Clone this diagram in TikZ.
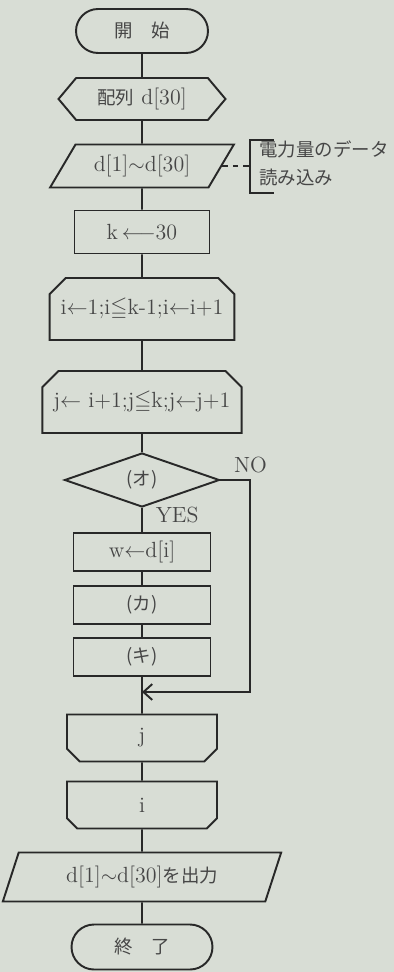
\documentclass[tikz,border=0pt]{standalone}
\usepackage{amssymb}
\usepackage{fontspec}
\newfontfamily\jp{Noto Sans CJK JP}[Scale=0.84]
\usetikzlibrary{arrows.meta,shapes.geometric,shapes.misc,shapes.symbols,positioning,calc}

\definecolor{paper}{RGB}{216,221,213}
\definecolor{ink}{RGB}{40,40,40}
\definecolor{txt}{RGB}{70,70,70}

\tikzset{
  box/.style={draw=ink, line width=1.1pt, inner sep=0pt, text=txt,
    font=\fontsize{12.5pt}{14pt}\selectfont},
  term/.style={box, rounded rectangle},
  prep/.style={box, signal, signal to=west and east, signal pointer angle=100},
  io/.style={box, trapezium, trapezium stretches=true},
  proc/.style={box, rectangle},
  loopstart/.style={box, chamfered rectangle, chamfered rectangle corners={north west,north east}, chamfered rectangle xsep=0.4cm},
  loopend/.style={box, chamfered rectangle, chamfered rectangle corners={south west,south east}, chamfered rectangle xsep=0.42cm},
  decision/.style={box, diamond},
  flow/.style={draw=ink, line width=1.1pt},
  lbl/.style={text=txt, font=\fontsize{12.5pt}{14pt}\selectfont},
  >={Straight Barb[length=5pt,width=9pt]}
}

\begin{document}
\begin{tikzpicture}[x=0.02cm,y=-0.02cm]
% Background
\fill[paper] (0,0) rectangle (394,972);
\useasboundingbox (0,0) rectangle (394,972);

% Start
\node[term, minimum width=2.64cm, minimum height=0.88cm] (start) at (142,31) {\jp 開\quad 始};

% Preparation and input
\node[prep, minimum width=3.34cm, minimum height=0.84cm] (arr) at (142,99) {{\jp 配列} d[30]};
\node[io, trapezium left angle=50, trapezium right angle=130, minimum width=3.7cm, minimum height=0.86cm] (inp) at (142,166) {d[1]$\sim$d[30]};
\node[proc, minimum width=2.7cm, minimum height=0.86cm] (kset) at (142,232) {k\,$\longleftarrow$30};

% Loops
\node[loopstart, minimum width=3.18cm, minimum height=1.24cm] (loopi) at (142,309) {i$\leftarrow$1;i$\leqq$k-1;i$\leftarrow$i+1};
\node[loopstart, minimum width=3.44cm, minimum height=1.24cm] (loopj) at (142,402) {j$\leftarrow$ i+1;j$\leqq$k;j$\leftarrow$j+1};

% Body
\node[decision, minimum width=3.1cm, minimum height=1.08cm] (dec) at (142,480) {\jp (オ)};
\node[proc, minimum width=2.74cm, minimum height=0.76cm] (wset) at (142,552) {w$\leftarrow$d[i]};
\node[proc, minimum width=2.74cm, minimum height=0.76cm] (ka) at (142,605) {\jp (カ)};
\node[proc, minimum width=2.74cm, minimum height=0.76cm] (ki) at (142,657) {\jp (キ)};
\coordinate (merge) at (142,692);

% Loop ends
\node[loopend, minimum width=3.0cm, minimum height=0.94cm] (endj) at (142,738) {j};
\node[loopend, minimum width=3.0cm, minimum height=0.94cm] (endi) at (142,805) {i};

% Output and end
\node[io, trapezium left angle=66, trapezium right angle=114, minimum width=5.6cm, minimum height=0.98cm] (out) at (142,877) {d[1]$\sim$d[30]{\jp を出力}};
\node[term, minimum width=2.82cm, minimum height=0.9cm] (stop) at (142,947) {\jp 終\quad 了};

% Annotation
\coordinate (brtop) at (250,140);
\coordinate (brbot) at (250,193);
\draw[flow, dashed] (inp.east) -- (brtop |- inp.east);
\draw[flow] ($(brtop)+(24,0)$) -- (brtop) -- (brbot) -- ++(24,0);
\node[lbl, align=left, anchor=west, inner sep=0pt] (note) at (259,163) {{\jp 電力量のデータ}\\[2pt]{\jp 読み込み}};

% Flows
\draw[flow] (start) -- (arr);
\draw[flow] (arr) -- (inp);
\draw[flow] (inp) -- (kset);
\draw[flow] (kset) -- (loopi);
\draw[flow] (loopi) -- (loopj);
\draw[flow] (loopj) -- (dec);
\draw[flow] (dec) -- (wset) node[lbl, pos=0.3, right=4pt] {YES};
\draw[flow] (wset) -- (ka);
\draw[flow] (ka) -- (ki);
\draw[flow] (ki) -- (endj);
\draw[flow, ->] (dec.east) -- ++(30,0) node[lbl, above] {NO} |- (merge);
\draw[flow] (endj) -- (endi);
\draw[flow] (endi) -- (out);
\draw[flow] (out) -- (stop);

\end{tikzpicture}
\end{document}
